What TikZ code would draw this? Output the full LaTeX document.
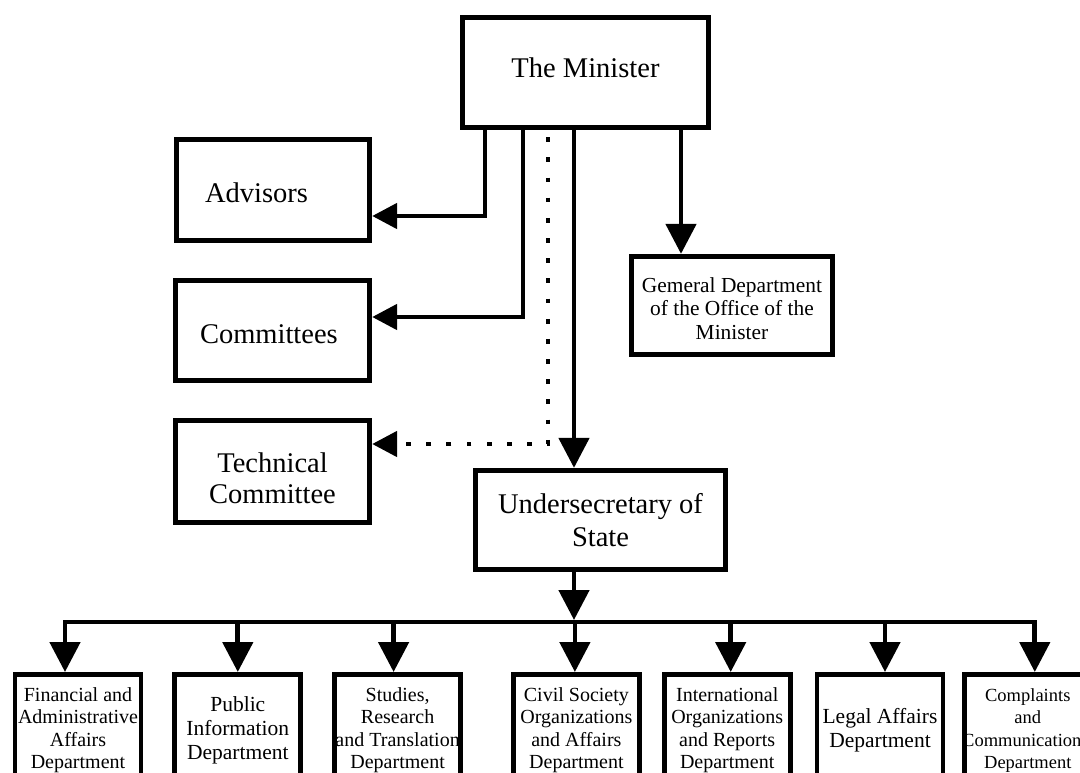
\documentclass[tikz,border=0pt]{standalone}
\usepackage{fontspec}
\setmainfont{Liberation Serif}
\usetikzlibrary{arrows.meta}
\usetikzlibrary{positioning}

\begin{document}
\begin{tikzpicture}[x=1pt,y=-1pt,->,>={Triangle[length=30pt,width=30pt]},line width=4.8pt,
  main node/.style={draw,rectangle,inner sep=0pt,align=center,font=\fontsize{28.5}{33}\selectfont},
  dept node/.style={draw,rectangle,inner sep=0pt,align=center,minimum width=126pt,minimum height=112pt,font=\fontsize{20}{22.5}\selectfont},
  big dept/.style={dept node,font=\fontsize{21.5}{24}\selectfont},
  side/.style={>={Triangle[length=25pt,width=25pt]}},
  dot line/.style={line cap=butt,dash pattern=on 4.8pt off 15.38pt,dash phase=13.18pt}]

  \useasboundingbox (0,0) rectangle (1080,772);
  \clip (0,0) rectangle (1080,772);

  \node[main node,minimum width=246.5pt,minimum height=110.5pt] (minister) at (585.5,72.5) {The Minister\rule[-9pt]{0pt}{9pt}};
  \node[main node,minimum width=193.5pt,minimum height=101.5pt,text width=136pt,align=left] (advisors) at (273,190) {\rule{0pt}{25.5pt}Advisors};
  \node[main node,minimum width=194.5pt,minimum height=100.5pt,text width=145pt,align=left] (committees) at (272.5,330.5) {\rule{0pt}{25.5pt}Committees};
  \node[main node,minimum width=194.5pt,minimum height=102.5pt,font=\fontsize{28.5}{30.5}\selectfont] (technical) at (272.5,471.5) {\rule{0pt}{33.5pt}Technical\\Committee};
  \node[main node,minimum width=250.5pt,minimum height=99.5pt] (undersec) at (600.5,520) {Undersecretary of\\State};
  \node[main node,minimum width=201.5pt,minimum height=98.5pt,font=\fontsize{21.4}{23.5}\selectfont] (office) at (732,305.5) {\rule{0pt}{20.6pt}Gemeral Department\\of the Office of the\\Minister};

  \node[dept node,anchor=north] (finance) at (78,672) {Financial and\\Administrative\\Affairs\\Department};
  \node[big dept] (info) [right=29pt of finance] {Public\\Information\\Department};
  \node[dept node] (studies) [right=29pt of info] {Studies,\\Research\\and Translation\\Department};
  \node[dept node] (civil) [right=48pt of studies] {Civil Society\\Organizations\\and Affairs\\Department};
  \node[dept node] (intl) [right=20pt of civil] {International\\Organizations\\and Reports\\Department};
  \node[big dept] (legal) [right=22pt of intl] {Legal Affairs\\Department};
  \node[dept node,font=\fontsize{18.5}{22.5}\selectfont] (complaints) [right=17pt of legal] {Complaints\\and\\\hspace*{-12pt}Communication\\Department};

  \coordinate (advbend) at (485,216);
  \coordinate (combend) at (523,317);
  \coordinate (techbend) at (548,444);
  \coordinate (offline) at (681,0);
  \coordinate (bus) at (574,622);

  \draw[side] (minister.south -| advbend) |- (advisors.east |- advbend);
  \draw[side] (minister.south -| combend) |- (committees.east |- combend);
  \draw[side,dot line] (minister.south -| techbend) |- (technical.east |- techbend);
  \draw (minister.south -| bus) -- (undersec.north -| bus);
  \draw (minister.south -| offline) -- (office.north -| offline);
  \draw[shorten >=2pt] (undersec.south -| bus) -- (bus);
  \draw[<->] ([xshift=-13pt]finance.north) -- ++(0,-50) -| ([xshift=7pt]complaints.north);
  \foreach \n/\dx in {info/0,studies/-4,civil/-1.5,intl/3.5,legal/5}
    \draw ([shift={(\dx,-50)}]\n.north) -- ([xshift=\dx pt]\n.north);
\end{tikzpicture}
\end{document}
